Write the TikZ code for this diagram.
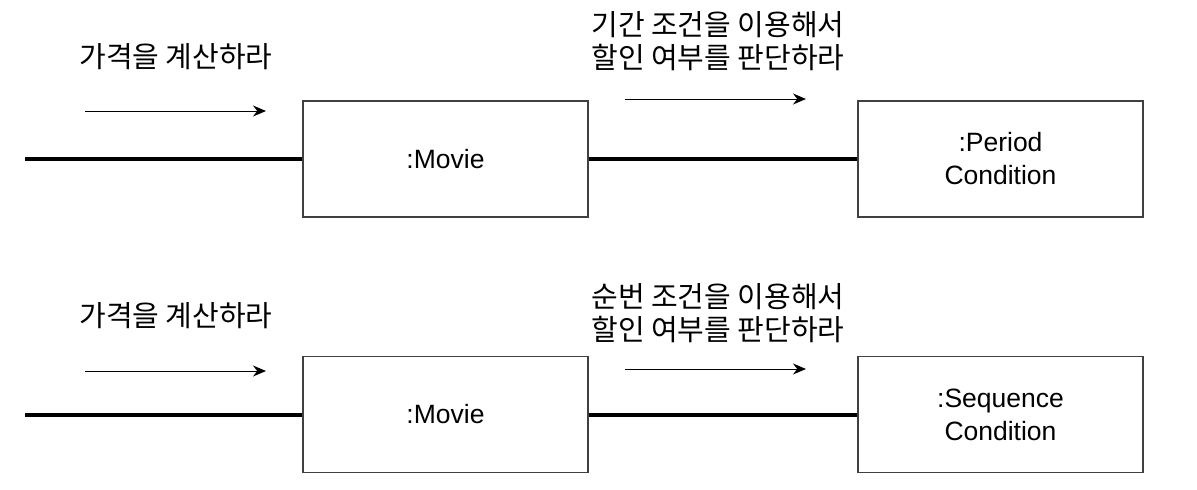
\documentclass[tikz,border=0pt]{standalone}
\usepackage{fontspec}
\setmainfont{Liberation Sans}
\newfontfamily\kr{Noto Sans CJK KR}
\usetikzlibrary{arrows.meta}
\begin{document}
\begin{tikzpicture}[x=1pt,y=-1pt,
  obj/.style={draw=black!75,line width=1.2pt,minimum width=285pt,minimum height=116pt,inner sep=0pt,align=center,font=\fontsize{26.5}{33}\selectfont},
  lbl/.style={align=center,inner sep=0pt,font=\kr\fontsize{29}{33}\selectfont},
  link/.style={line width=4pt},
  msg/.style={line width=1pt,-{Stealth[length=13pt,width=11pt]}}]
\useasboundingbox (0,0) rectangle (1197,490);
% top row
\node[obj] (m1) at (445.5,159) {:Movie};
\node[obj] (p1) at (1000.5,159) {:Period\\Condition};
\coordinate (l1) at (25,159);
\draw[link] (l1) -- (m1.west);
\draw[link] (m1.east) -- (p1.west);
\coordinate (a1s) at (85,111); \coordinate (a1e) at (266,111);
\draw[msg] (a1s) -- (a1e);
\node[lbl] (t1) at (176,57) {가격을 계산하라};
\coordinate (b1s) at (625,99); \coordinate (b1e) at (806,99);
\draw[msg] (b1s) -- (b1e);
\node[lbl] (u1) at (718,41) {기간 조건을 이용해서\\할인 여부를 판단하라};
% bottom row
\node[obj] (m2) at (445.5,414.5) {:Movie};
\node[obj] (s2) at (1000.5,414.5) {:Sequence\\Condition};
\coordinate (l2) at (25,414.5);
\draw[link] (l2) -- (m2.west);
\draw[link] (m2.east) -- (s2.west);
\coordinate (a2s) at (85,371); \coordinate (a2e) at (266,371);
\draw[msg] (a2s) -- (a2e);
\node[lbl] (t2) at (176,316) {가격을 계산하라};
\coordinate (b2s) at (625,369); \coordinate (b2e) at (806,369);
\draw[msg] (b2s) -- (b2e);
\node[lbl] (u2) at (718,313) {순번 조건을 이용해서\\할인 여부를 판단하라};
\end{tikzpicture}
\end{document}
